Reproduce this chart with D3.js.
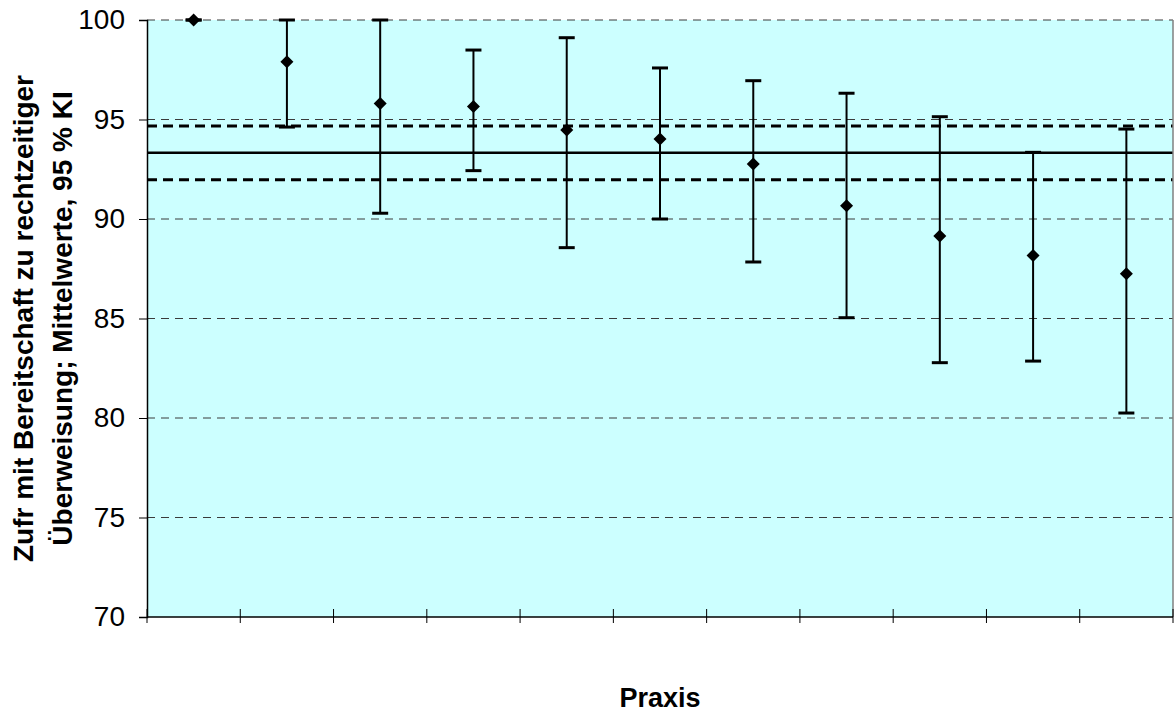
<!DOCTYPE html>
<html>
<head>
<meta charset="utf-8">
<script src="https://cdn.jsdelivr.net/npm/d3@7/dist/d3.min.js"></script>
<style>
  html, body { margin: 0; padding: 0; background: #ffffff; }
  svg { display: block; font-family: "Liberation Sans", Arial, sans-serif; }
</style>
</head>
<body>
<svg id="chart" width="1176" height="715"></svg>
<script>
// Practices (x categories)
const praxis = ["1", "2", "3", "4", "5", "6", "7", "8", "9", "10", "11"];
// Mean per practice and 95 % confidence limits
const mittelwert = [100, 97.9, 95.8, 95.65, 94.47, 94.02, 92.76, 90.67, 89.15, 88.16, 87.25];
const kiUnten   = [100, 94.62, 90.29, 92.43, 88.56, 90.0, 87.84, 85.04, 82.78, 82.86, 80.25];
const kiOben    = [100, 100, 100, 98.49, 99.11, 97.59, 96.95, 96.32, 95.14, 93.35, 94.52];
// Overall mean with its 95 % confidence band
const gesamt = [93.33];
const gesamtKI = [91.97, 94.67];
// Y axis ticks
const yTicks = [70, 75, 80, 85, 90, 95, 100];

(function draw() {
  const svg = d3.select("#chart");
  const pLeft = 147, pRight = 1173, pTop = 20, pBottom = 617;

  const x = d3.scaleBand().domain(praxis).range([pLeft, pRight]).padding(0);
  const y = d3.scaleLinear().domain([70, 100]).range([pBottom, pTop]);

  // plot area
  svg.append("rect")
    .attr("x", pLeft).attr("y", pTop)
    .attr("width", pRight - pLeft).attr("height", pBottom - pTop)
    .attr("fill", "#CCFFFF");

  // horizontal gridlines
  svg.append("g").selectAll("line")
    .data(yTicks.filter(d => d > 70))
    .join("line")
    .attr("x1", pLeft).attr("x2", pRight)
    .attr("y1", d => y(d)).attr("y2", d => y(d))
    .attr("stroke", "#3a3a3a").attr("stroke-width", 1)
    .attr("stroke-dasharray", "8,6");

  // overall mean and its confidence band
  svg.append("line")
    .attr("x1", pLeft).attr("x2", pRight)
    .attr("y1", y(gesamt[0])).attr("y2", y(gesamt[0]))
    .attr("stroke", "#000").attr("stroke-width", 2.5);
  svg.append("g").selectAll("line")
    .data(gesamtKI)
    .join("line")
    .attr("x1", pLeft).attr("x2", pRight)
    .attr("y1", d => y(d)).attr("y2", d => y(d))
    .attr("stroke", "#000").attr("stroke-width", 3)
    .attr("stroke-dasharray", "10,6");

  // error bars
  const rows = praxis.map((p, i) => ({ p, m: mittelwert[i], lo: kiUnten[i], hi: kiOben[i] }));
  const cx = d => x(d.p) + x.bandwidth() / 2;
  const bars = svg.append("g");
  bars.selectAll("line.stem")
    .data(rows).join("line").attr("class", "stem")
    .attr("x1", cx).attr("x2", cx)
    .attr("y1", d => y(d.hi)).attr("y2", d => y(d.lo))
    .attr("stroke", "#000").attr("stroke-width", 2);
  bars.selectAll("line.capHi")
    .data(rows).join("line").attr("class", "capHi")
    .attr("x1", d => cx(d) - 8).attr("x2", d => cx(d) + 8)
    .attr("y1", d => y(d.hi)).attr("y2", d => y(d.hi))
    .attr("stroke", "#000").attr("stroke-width", 3);
  bars.selectAll("line.capLo")
    .data(rows).join("line").attr("class", "capLo")
    .attr("x1", d => cx(d) - 8).attr("x2", d => cx(d) + 8)
    .attr("y1", d => y(d.lo)).attr("y2", d => y(d.lo))
    .attr("stroke", "#000").attr("stroke-width", 3);

  // diamond markers for the means
  const r = 6.5;
  bars.selectAll("path.mark")
    .data(rows).join("path").attr("class", "mark")
    .attr("d", d => `M${cx(d)},${y(d.m) - r}L${cx(d) + r},${y(d.m)}L${cx(d)},${y(d.m) + r}L${cx(d) - r},${y(d.m)}Z`)
    .attr("fill", "#000");

  // right border
  svg.append("line")
    .attr("x1", pRight).attr("x2", pRight).attr("y1", pTop).attr("y2", pBottom)
    .attr("stroke", "#808080").attr("stroke-width", 1.5);

  // y axis
  const yAxis = svg.append("g")
    .attr("transform", `translate(${pLeft},0)`)
    .call(d3.axisLeft(y).tickValues(yTicks).tickSize(8).tickPadding(14).tickFormat(d3.format("d")));
  yAxis.select(".domain").attr("stroke", "#000").attr("stroke-width", 1.5);
  yAxis.selectAll(".tick line").attr("stroke", "#000");
  yAxis.selectAll(".tick text")
    .attr("font-size", 28).attr("fill", "#000")
    .attr("font-family", "'Liberation Sans', Arial, sans-serif");

  // x axis: line with crossing ticks at category boundaries
  svg.append("line")
    .attr("x1", pLeft).attr("x2", pRight).attr("y1", pBottom).attr("y2", pBottom)
    .attr("stroke", "#000").attr("stroke-width", 1.5);
  const bounds = praxis.map(p => x(p)).concat([x.range()[1]]);
  svg.append("g").selectAll("line")
    .data(bounds).join("line")
    .attr("x1", d => d).attr("x2", d => d)
    .attr("y1", pBottom - 8).attr("y2", pBottom + 6)
    .attr("stroke", "#000").attr("stroke-width", 1);

  // axis titles
  svg.append("text")
    .attr("x", (pLeft + pRight) / 2).attr("y", 707)
    .attr("text-anchor", "middle")
    .attr("font-size", 27).attr("font-weight", "bold")
    .text("Praxis");

  const yTitle = svg.append("text")
    .attr("transform", `translate(0,${(pTop + pBottom) / 2}) rotate(-90)`)
    .attr("text-anchor", "middle")
    .attr("font-size", 28).attr("font-weight", "bold");
  yTitle.append("tspan").attr("x", 0).attr("y", 33).text("Zufr mit Bereitschaft zu rechtzeitiger");
  yTitle.append("tspan").attr("x", 0).attr("y", 72).text("Überweisung; Mittelwerte, 95 % KI");
})();
</script>
</body>
</html>
